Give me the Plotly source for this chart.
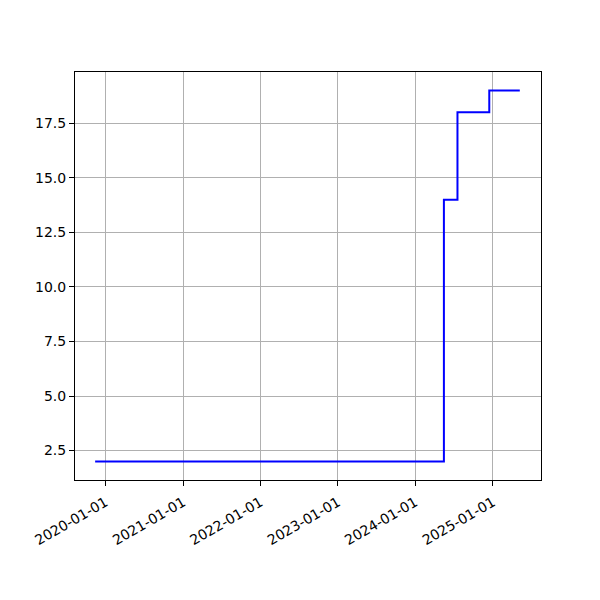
import plotly.graph_objects as go

dates = ["2019-11-13", "2024-05-15", "2024-07-18", "2024-12-15", "2025-05-08"]
values = [2, 14, 18, 19, 19]
tick_dates = ["2020-01-01", "2021-01-01", "2022-01-01", "2023-01-01", "2024-01-01", "2025-01-01"]
y_ticks = [2.5, 5.0, 7.5, 10.0, 12.5, 15.0, 17.5]

fig = go.Figure()
fig.add_trace(go.Scatter(x=dates, y=values, mode="lines", line=dict(color="blue", width=2, shape="hv"),
                         showlegend=False))

axis_common = dict(showline=True, linecolor="black", linewidth=1, mirror=True,
                   ticks="outside", ticklen=5, tickcolor="black", tickwidth=1,
                   showgrid=True, gridcolor="#b0b0b0", gridwidth=1, zeroline=False,
                   tickfont=dict(family="DejaVu Sans", size=14, color="black"))

fig.update_xaxes(type="date", range=["2019-08-10", "2025-08-16"], tickvals=tick_dates,
                 ticktext=tick_dates, tickangle=-30, ticklabelstandoff=3, **axis_common)
fig.update_yaxes(range=[1.15, 19.85], tickvals=y_ticks, ticktext=[f"{v:.1f}" for v in y_ticks],
                 **axis_common)

fig.update_layout(width=600, height=600, margin=dict(l=67, r=67, t=64, b=128, autoexpand=False),
                  plot_bgcolor="white", paper_bgcolor="white")
fig.write_html("out.html")
